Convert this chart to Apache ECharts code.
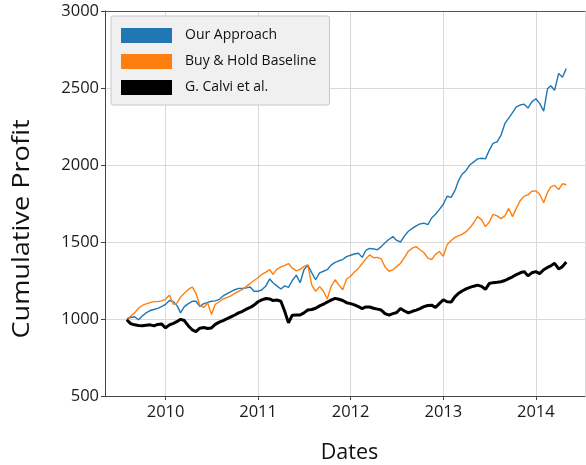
<!DOCTYPE html>
<html>
<head>
<meta charset="utf-8">
<script src="https://cdn.jsdelivr.net/npm/echarts@6/dist/echarts.min.js"></script>
<style>
  html, body { margin: 0; padding: 0; background: #fff; }
  #chart { width: 586px; height: 465px; }
</style>
</head>
<body>
<div id="chart"></div>
<script>
// series names (legend order)
const seriesNames = ["Our Approach", "Buy & Hold Baseline", "G. Calvi et al."];

// values, one every half month from 2009-08-01 to 2014-05-01
const ourApproach = [
  1000, 1010, 1015, 995, 1020, 1040, 1055, 1062, 1069, 1080,
  1095, 1120, 1113, 1085, 1040, 1080, 1100, 1115, 1115, 1082,
  1100, 1108, 1115, 1118, 1128, 1150, 1165, 1178, 1190, 1199,
  1199, 1202, 1208, 1180, 1180, 1190, 1215, 1260, 1235, 1215,
  1195, 1215, 1205, 1250, 1285, 1235, 1320, 1350, 1300, 1255,
  1300, 1310, 1320, 1350, 1368, 1378, 1386, 1405, 1414, 1422,
  1427, 1400, 1445, 1458, 1455, 1450, 1470, 1495, 1518, 1535,
  1510, 1500, 1540, 1570, 1588, 1605, 1618, 1622, 1613, 1656,
  1680, 1710, 1745, 1797, 1790, 1835, 1895, 1940, 1965, 2002,
  2020, 2040, 2044, 2040, 2095, 2140, 2150, 2190, 2270, 2305,
  2340, 2377, 2390, 2395, 2370, 2410, 2430, 2400, 2350, 2495,
  2515, 2485, 2595, 2570, 2626
];
const buyHold = [
  1000, 1018, 1040, 1070, 1088, 1098, 1106, 1113, 1113, 1118,
  1128, 1155, 1095, 1105, 1142, 1167, 1192, 1208, 1167, 1088,
  1075, 1105, 1030, 1095, 1112, 1130, 1140, 1150, 1167, 1180,
  1193, 1213, 1230, 1250, 1268, 1290, 1305, 1320, 1290, 1322,
  1338, 1348, 1360, 1330, 1312, 1322, 1342, 1351, 1220, 1180,
  1210, 1180, 1130, 1210, 1255, 1220, 1190, 1258, 1278, 1305,
  1330, 1360, 1390, 1416, 1398, 1400, 1390, 1338, 1310, 1320,
  1340, 1362, 1400, 1440, 1460, 1470, 1450, 1432, 1395, 1385,
  1420, 1438, 1408, 1483, 1510, 1530, 1540, 1550, 1567, 1592,
  1625, 1665, 1645, 1600, 1628, 1680, 1670, 1652, 1670, 1718,
  1665, 1720, 1770, 1798, 1806, 1830, 1832, 1810, 1755, 1822,
  1858, 1868, 1840, 1878, 1872
];
const calvi = [
  995, 970, 962, 958, 956, 960, 962, 955, 965, 968,
  942, 962, 972, 984, 998, 990, 955, 930, 918, 940,
  945, 938, 942, 965, 980, 990, 1002, 1014, 1026, 1040,
  1050, 1064, 1075, 1090, 1112, 1124, 1133, 1130, 1120, 1123,
  1115, 1050, 975, 1025, 1026, 1026, 1040, 1058, 1062, 1070,
  1085, 1096, 1110, 1122, 1134, 1128, 1120, 1106, 1100, 1092,
  1080, 1068, 1078, 1078, 1070, 1064, 1058, 1035, 1025, 1035,
  1042, 1068, 1052, 1040, 1050, 1058, 1068, 1080, 1088, 1090,
  1075, 1100, 1125, 1112, 1110, 1145, 1165, 1182, 1196, 1205,
  1213, 1220, 1212, 1192, 1230, 1236, 1238, 1242, 1250, 1262,
  1274, 1288, 1300, 1308, 1280, 1300, 1308, 1295, 1320, 1335,
  1345, 1362, 1325, 1340, 1370
];

// sample dates: 1st and 16th of each month starting Aug 2009
const dates = [];
for (let k = 0; k < ourApproach.length; k++) {
  const m = 7 + Math.floor(k / 2); // months since Jan 2009 (0-based)
  const y = 2009 + Math.floor(m / 12);
  const mm = String((m % 12) + 1).padStart(2, "0");
  dates.push(y + "-" + mm + "-" + (k % 2 ? "16" : "01"));
}

const FONT = "Open Sans";
const chart = echarts.init(document.getElementById("chart"));

const makeSeries = (name, values, color, width) => ({
  name: name,
  type: "line",
  data: dates.map((d, i) => [d, values[i]]),
  showSymbol: false,
  color: color,
  lineStyle: { color: color, width: width },
  z: 3
});

chart.setOption({
  animation: false,
  grid: { left: 105, right: 1, top: 11, bottom: 69, containLabel: false },
  legend: {
    orient: "vertical",
    left: 111,
    top: 16,
    icon: "rect",
    itemWidth: 51,
    itemHeight: 15,
    itemGap: 11,
    padding: [12, 13, 10, 10],
    backgroundColor: "#f0f0f0",
    borderColor: "#c8c8c8",
    borderWidth: 1,
    borderRadius: 2,
    textStyle: { fontFamily: FONT, fontSize: 14, color: "#111", padding: [0, 0, 0, 8] },
    data: seriesNames
  },
  xAxis: [
    {
      type: "time",
      min: "2009-05-07",
      max: "2014-07-14",
      splitNumber: 5,
      axisLine: { lineStyle: { color: "#444", width: 1 } },
      axisTick: { show: true, length: 4, lineStyle: { color: "#444" } },
      axisLabel: { fontFamily: FONT, fontSize: 16.5, color: "#1a1a1a", margin: 8, formatter: "{yyyy}", hideOverlap: false },
      splitLine: { show: true, lineStyle: { color: "#d9d9d9", width: 1 } },
      minorTick: { show: false }
    },
    {
      type: "value",
      position: "top",
      axisLine: { show: true, onZero: false, lineStyle: { color: "#555" } },
      axisTick: { show: false },
      axisLabel: { show: false },
      splitLine: { show: false }
    }
  ],
  yAxis: {
    type: "value",
    min: 500,
    max: 3000,
    interval: 500,
    axisLine: { show: true, lineStyle: { color: "#444", width: 1 } },
    axisTick: { show: true, length: 4, lineStyle: { color: "#444" } },
    axisLabel: { fontFamily: FONT, fontSize: 16.5, color: "#1a1a1a", margin: 6, formatter: (v) => String(v) },
    splitLine: { show: true, lineStyle: { color: "#d9d9d9", width: 1 } }
  },
  graphic: [
    {
      type: "text",
      x: 22,
      y: 229,
      rotation: Math.PI / 2,
      scaleX: 1.18,
      style: {
        text: "Cumulative Profit",
        fontFamily: FONT,
        fontSize: 23,
        fill: "#111",
        align: "center",
        verticalAlign: "middle"
      }
    },
    {
      type: "text",
      x: 349.5,
      y: 453,
      style: {
        text: "Dates",
        fontFamily: FONT,
        fontSize: 21.5,
        fill: "#111",
        align: "center",
        verticalAlign: "middle"
      }
    }
  ],
  series: [
    makeSeries(seriesNames[0], ourApproach, "#1f77b4", 1.4),
    makeSeries(seriesNames[1], buyHold, "#ff7f0e", 1.4),
    makeSeries(seriesNames[2], calvi, "#000000", 3)
  ]
});
</script>
</body>
</html>
